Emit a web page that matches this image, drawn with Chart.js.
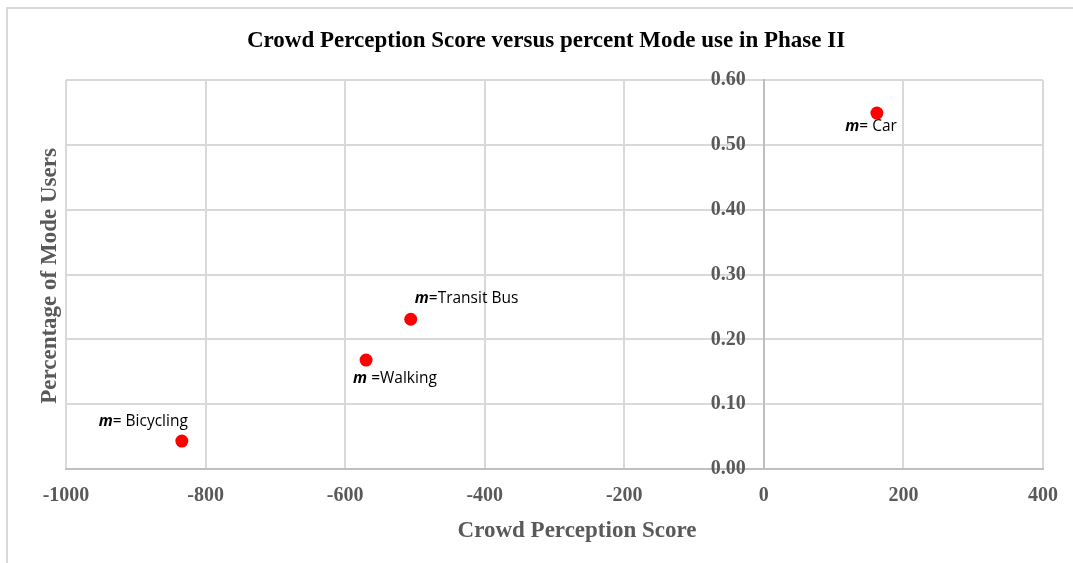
<!DOCTYPE html>
<html>
<head>
<meta charset="utf-8">
<title>Crowd Perception Score versus percent Mode use in Phase II</title>
<script src="https://cdn.jsdelivr.net/npm/chart.js@4.4.1/dist/chart.umd.min.js"></script>
<style>
	html, body { margin: 0; padding: 0; background: #ffffff; }
	#wrap { position: relative; width: 1073px; height: 563px; }
</style>
</head>
<body>
<div id="wrap"><canvas id="modeChart" width="1073" height="563"></canvas></div>
<script>
const modes = ['Car', 'Transit Bus', 'Walking', 'Bicycling'];
const labelTexts = ['= Car', '=Transit Bus', ' =Walking', '= Bicycling'];
const crowdScores = [162, -506, -570, -834];
const modeShares = [0.549, 0.231, 0.168, 0.043];
const xTicks = [-1000, -800, -600, -400, -200, 0, 200, 400];
const yTicks = [0, 0.1, 0.2, 0.3, 0.4, 0.5, 0.6];

const chartTitle = 'Crowd Perception Score versus percent Mode use in Phase II';
const xTitle = 'Crowd Perception Score';
const yTitle = 'Percentage of Mode Users';

// where each point label sits relative to its dot
const labelPlacement = [
	{ align: 'right', dx: 20, dy: 14 },
	{ align: 'left', dx: 4, dy: -21 },
	{ align: 'left', dx: -13, dy: 18 },
	{ align: 'right', dx: 6, dy: -20 },
];

const serif = '"Liberation Serif", "Times New Roman", serif';
const sans = '"Open Sans", "Noto Sans", sans-serif';
const axisGray = '#595959';

const points = crowdScores.map((x, i) => ({ x, y: modeShares[i] }));

const decorPlugin = {
	id: 'decor',
	beforeDraw(chart) {
		const { ctx } = chart;
		ctx.save();
		ctx.strokeStyle = '#d9d9d9';
		ctx.lineWidth = 2;
		ctx.beginPath();
		ctx.moveTo(7, 563);
		ctx.lineTo(7, 8);
		ctx.lineTo(1073, 8);
		ctx.stroke();
		ctx.restore();
	},
	afterDraw(chart) {
		const { ctx } = chart;
		ctx.save();
		ctx.textAlign = 'center';
		ctx.textBaseline = 'middle';

		ctx.fillStyle = '#000000';
		ctx.font = `bold 23px ${serif}`;
		ctx.fillText(chartTitle, 546, 41);

		ctx.fillStyle = axisGray;
		ctx.font = `bold 23px ${serif}`;
		ctx.fillText(xTitle, 577, 531);

		ctx.translate(50, 276);
		ctx.rotate(-Math.PI / 2);
		ctx.font = `bold 23px ${serif}`;
		ctx.fillText(yTitle, 0, 0);
		ctx.restore();

		// point labels: bold italic "m" followed by the mode text
		const meta = chart.getDatasetMeta(0);
		ctx.save();
		ctx.textBaseline = 'middle';
		ctx.fillStyle = '#000000';
		meta.data.forEach((el, i) => {
			const place = labelPlacement[i];
			const boldFont = `italic bold 15.5px ${sans}`;
			const normalFont = `15.5px ${sans}`;
			ctx.font = boldFont;
			const mWidth = ctx.measureText('m').width;
			ctx.font = normalFont;
			const restWidth = ctx.measureText(labelTexts[i]).width;
			const total = mWidth + restWidth;
			let left = el.x + place.dx;
			if (place.align === 'right') left -= total;
			const y = el.y + place.dy;
			ctx.textAlign = 'left';
			ctx.font = boldFont;
			ctx.fillText('m', left, y);
			ctx.font = normalFont;
			ctx.fillText(labelTexts[i], left + mWidth, y);
		});
		ctx.restore();
	},
};

const canvas = document.querySelector('#modeChart');

new Chart(canvas.getContext('2d'), {
	type: 'scatter',
	data: {
		datasets: [{
			label: 'Mode use',
			data: points,
			backgroundColor: '#ff0000',
			borderWidth: 0,
			pointRadius: 6.5,
		}],
	},
	options: {
		responsive: false,
		animation: false,
		layout: { padding: { left: 66, right: 30, top: 80, bottom: 0 } },
		plugins: {
			legend: { display: false },
			tooltip: { enabled: false },
			title: { display: false },
		},
		scales: {
			x: {
				type: 'linear',
				position: 'bottom',
				min: xTicks[0],
				max: xTicks[xTicks.length - 1],
				afterBuildTicks: (scale) => {
					scale.ticks = xTicks.map((value) => ({ value }));
				},
				afterFit: (scale) => {
					scale.height = 94;
				},
				ticks: {
					color: axisGray,
					font: { family: serif, size: 20, weight: 'bold' },
					padding: 15,
					maxRotation: 0,
					callback: (value) => String(value),
				},
				grid: { color: '#d9d9d9', lineWidth: 2, drawTicks: false },
				border: { color: '#bfbfbf', width: 2 },
			},
			y: {
				type: 'linear',
				position: { x: 0 },
				min: yTicks[0],
				max: yTicks[yTicks.length - 1],
				afterBuildTicks: (scale) => {
					scale.ticks = yTicks.map((value) => ({ value }));
				},
				ticks: {
					color: axisGray,
					font: { family: serif, size: 20, weight: 'bold' },
					// padding is ignored for an axis placed at a value, so pad with spaces
					callback: (value) => `${Number(value).toFixed(2)}\u2002\u2009\u2009`,
				},
				grid: { color: '#d9d9d9', lineWidth: 2, drawTicks: false },
				border: { color: '#bfbfbf', width: 2 },
			},
		},
	},
	plugins: [decorPlugin],
});
</script>
</body>
</html>
